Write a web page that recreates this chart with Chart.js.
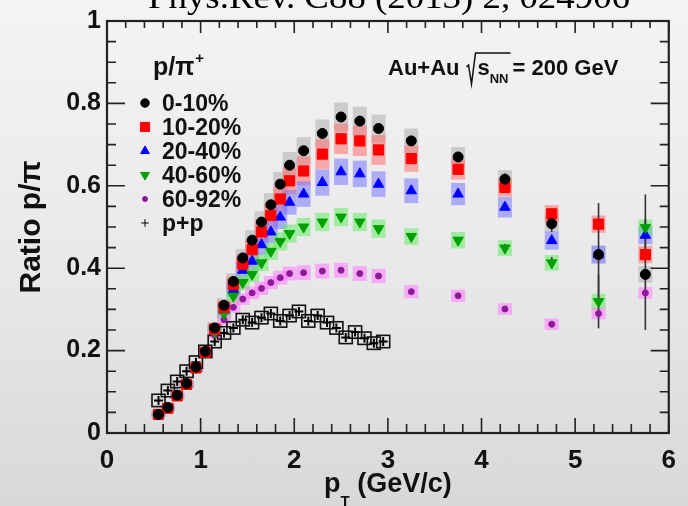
<!DOCTYPE html>
<html>
<head>
<meta charset="utf-8">
<title>Ratio p/pi</title>
<script src="https://cdn.jsdelivr.net/npm/chart.js@4.4.1/dist/chart.umd.min.js"></script>
<style>
  html, body { margin: 0; padding: 0; }
  body {
    width: 688px; height: 506px; overflow: hidden;
    background: linear-gradient(to bottom, #f4f4f4 0%, #e8e8e8 55%, #d8d8d8 100%);
  }
  canvas { display: block; }
</style>
</head>
<body>
<canvas id="ratioChart" width="688" height="506"></canvas>
<script>
// pT bin centres (GeV/c)
const ptAuAu = [0.55, 0.65, 0.75, 0.85, 0.95, 1.05, 1.15, 1.25, 1.35, 1.45,
                1.55, 1.65, 1.75, 1.85, 1.95, 2.1, 2.3, 2.5, 2.7, 2.9,
                3.25, 3.75, 4.25, 4.75, 5.25, 5.75];
const ptPP = [0.55, 0.65, 0.75, 0.85, 0.95, 1.05, 1.15, 1.25, 1.35, 1.45,
              1.55, 1.65, 1.75, 1.85, 1.95, 2.05, 2.15, 2.25, 2.35, 2.45,
              2.55, 2.65, 2.75, 2.85, 2.95];

// p/pi ratio per centrality class
const ratio0010 = [0.045, 0.062, 0.092, 0.120, 0.160, 0.198, 0.255, 0.310, 0.368, 0.425,
                   0.468, 0.512, 0.554, 0.604, 0.650, 0.685, 0.727, 0.767, 0.757, 0.739,
                   0.709, 0.670, 0.616, 0.508, 0.433, 0.385];
const ratio1020 = [0.045, 0.060, 0.090, 0.118, 0.158, 0.196, 0.252, 0.305, 0.360, 0.410,
                   0.445, 0.488, 0.528, 0.568, 0.612, 0.636, 0.677, 0.714, 0.709, 0.687,
                   0.666, 0.640, 0.596, 0.532, 0.507, 0.433];
const ratio2040 = [0.043, 0.060, 0.090, 0.117, 0.157, 0.195, 0.248, 0.298, 0.348, 0.395,
                   0.417, 0.457, 0.488, 0.524, 0.560, 0.580, 0.608, 0.634, 0.629, 0.604,
                   0.588, 0.580, 0.548, 0.467, 0.433, 0.480];
const ratio4060 = [0.048, 0.064, 0.094, 0.120, 0.158, 0.195, 0.245, 0.290, 0.332, 0.365,
                   0.385, 0.413, 0.441, 0.465, 0.484, 0.500, 0.512, 0.524, 0.512, 0.496,
                   0.477, 0.468, 0.449, 0.413, 0.319, 0.499];
const ratio6092 = [0.050, 0.066, 0.095, 0.122, 0.158, 0.193, 0.238, 0.275, 0.305, 0.325,
                   0.340, 0.351, 0.365, 0.377, 0.387, 0.389, 0.393, 0.395, 0.387, 0.381,
                   0.343, 0.333, 0.301, 0.264, 0.290, 0.340];
const ratioPP = [0.079, 0.103, 0.125, 0.150, 0.172, 0.198, 0.222, 0.243, 0.255, 0.275,
                 0.268, 0.280, 0.290, 0.272, 0.285, 0.295, 0.272, 0.285, 0.268, 0.255,
                 0.232, 0.245, 0.230, 0.218, 0.222];

// systematic uncertainties (boxes)
const sys0010 = [0.005, 0.006, 0.007, 0.008, 0.010, 0.012, 0.014, 0.017, 0.020, 0.022,
                 0.024, 0.026, 0.028, 0.030, 0.032, 0.033, 0.034, 0.035, 0.035, 0.034,
                 0.030, 0.024, 0.022, 0.020, 0.020, 0.020];
const sys1020 = [0.005, 0.006, 0.007, 0.008, 0.010, 0.012, 0.014, 0.017, 0.020, 0.022,
                 0.025, 0.027, 0.029, 0.031, 0.033, 0.035, 0.036, 0.037, 0.037, 0.036,
                 0.032, 0.025, 0.022, 0.021, 0.021, 0.021];
const sys2040 = [0.005, 0.006, 0.007, 0.008, 0.010, 0.012, 0.014, 0.016, 0.019, 0.021,
                 0.023, 0.025, 0.027, 0.029, 0.030, 0.031, 0.032, 0.032, 0.032, 0.031,
                 0.030, 0.027, 0.025, 0.022, 0.022, 0.022];
const sys4060 = [0.004, 0.005, 0.006, 0.007, 0.008, 0.010, 0.012, 0.014, 0.016, 0.018,
                 0.019, 0.020, 0.021, 0.022, 0.022, 0.022, 0.022, 0.022, 0.022, 0.022,
                 0.020, 0.020, 0.019, 0.019, 0.019, 0.019];
const sys6092 = [0.004, 0.005, 0.006, 0.007, 0.008, 0.009, 0.010, 0.012, 0.013, 0.014,
                 0.015, 0.016, 0.016, 0.017, 0.017, 0.018, 0.018, 0.018, 0.018, 0.017,
                 0.016, 0.015, 0.014, 0.014, 0.014, 0.014];
const sysPP = [0.015, 0.015, 0.015, 0.015, 0.015, 0.015, 0.015, 0.015, 0.015, 0.015,
               0.015, 0.015, 0.015, 0.015, 0.015, 0.015, 0.015, 0.015, 0.015, 0.015,
               0.015, 0.015, 0.015, 0.015, 0.015];

// statistical errors large enough to show as bars
const stat0010 = [0, 0, 0, 0, 0, 0, 0, 0, 0, 0, 0, 0, 0, 0, 0, 0, 0, 0, 0, 0,
                  0, 0.010, 0.014, 0.020, 0.125, 0.135];
const stat4060 = [0, 0, 0, 0, 0, 0, 0, 0, 0, 0, 0, 0, 0, 0, 0, 0, 0, 0, 0, 0,
                  0, 0.008, 0.010, 0.014, 0.065, 0.080];

const yTicks = [0, 0.2, 0.4, 0.6, 0.8, 1];

const FONT = "'Liberation Sans', Arial, Helvetica, sans-serif";
Chart.defaults.font.family = FONT;
Chart.defaults.font.weight = 'bold';
Chart.defaults.color = '#111';

function points(xs, ys) {
  return xs.map((x, i) => ({ x: x, y: ys[i] }));
}

const datasets = [
  { label: '0-10%', data: points(ptAuAu, ratio0010), sysErr: sys0010, statErr: stat0010,
    boxFill: 'rgba(175,175,175,0.55)', order: 1,
    pointStyle: 'circle', pointRadius: 5, pointBackgroundColor: '#000', pointBorderColor: '#000' },
  { label: '10-20%', data: points(ptAuAu, ratio1020), sysErr: sys1020,
    boxFill: 'rgba(255,110,110,0.55)', order: 2,
    pointStyle: 'rect', pointRadius: 7.2, pointBackgroundColor: '#ff0000', pointBorderColor: '#ff0000' },
  { label: '20-40%', data: points(ptAuAu, ratio2040), sysErr: sys2040,
    boxFill: 'rgba(120,120,255,0.55)', order: 4,
    pointStyle: 'triangle', pointRadius: 6, pointBackgroundColor: '#0000ff', pointBorderColor: '#0000ff' },
  { label: '40-60%', data: points(ptAuAu, ratio4060), sysErr: sys4060, statErr: stat4060,
    boxFill: 'rgba(100,235,100,0.55)', order: 3,
    pointStyle: 'triangle', pointRotation: 180, pointRadius: 6,
    pointBackgroundColor: '#00a000', pointBorderColor: '#00a000' },
  { label: '60-92%', data: points(ptAuAu, ratio6092), sysErr: sys6092,
    boxFill: 'rgba(255,120,255,0.55)', order: 5,
    pointStyle: 'circle', pointRadius: 3, pointBackgroundColor: '#8e1a9a', pointBorderColor: '#8e1a9a' },
  { label: 'p+p', data: points(ptPP, ratioPP), sysErr: sysPP, boxStroke: '#111', order: 6,
    pointStyle: 'cross', pointRadius: 4.5, pointBorderWidth: 2,
    pointBackgroundColor: '#000', pointBorderColor: '#000' }
];

// systematic boxes and statistical bars under the markers
const errorDraw = {
  id: 'errorDraw',
  beforeDatasetsDraw(chart) {
    const { ctx, scales: { x, y } } = chart;
    ctx.save();
    chart.data.datasets.forEach(ds => {
      const half = ds.boxStroke ? 6.5 : 7;
      ds.data.forEach((p, i) => {
        const px = x.getPixelForValue(p.x);
        const top = y.getPixelForValue(p.y + ds.sysErr[i]);
        const bot = y.getPixelForValue(p.y - ds.sysErr[i]);
        if (ds.boxStroke) {
          ctx.strokeStyle = ds.boxStroke;
          ctx.lineWidth = 1.6;
          ctx.strokeRect(px - half, top, half * 2, bot - top);
        } else {
          ctx.fillStyle = ds.boxFill;
          ctx.fillRect(px - half, top, half * 2, bot - top);
        }
      });
    });
    chart.data.datasets.forEach(ds => {
      if (!ds.statErr) return;
      ctx.strokeStyle = '#333';
      ctx.lineWidth = 1.6;
      ds.data.forEach((p, i) => {
        const e = ds.statErr[i];
        if (!e) return;
        const px = x.getPixelForValue(p.x);
        ctx.beginPath();
        ctx.moveTo(px, y.getPixelForValue(p.y + e));
        ctx.lineTo(px, y.getPixelForValue(p.y - e));
        ctx.stroke();
      });
    });
    ctx.restore();
  }
};

// frame with inward ticks on all four sides
const frameTicks = {
  id: 'frameTicks',
  afterDraw(chart) {
    const { ctx, chartArea: a, scales: { x, y } } = chart;
    ctx.save();
    ctx.strokeStyle = '#222';
    ctx.lineWidth = 1.6;
    ctx.beginPath();
    for (let i = 0; i <= 30; i++) {
      const px = x.getPixelForValue(i * 0.2);
      const major = i % 5 === 0;
      ctx.moveTo(px, a.bottom); ctx.lineTo(px, a.bottom - (major ? 15 : 9));
      ctx.moveTo(px, a.top); ctx.lineTo(px, a.top + (major ? 12 : 7));
    }
    for (let i = 0; i <= 20; i++) {
      const py = y.getPixelForValue(i * 0.05);
      const major = i % 4 === 0;
      ctx.moveTo(a.left, py); ctx.lineTo(a.left + (major ? 18 : 9), py);
      ctx.moveTo(a.right, py); ctx.lineTo(a.right - (major ? 18 : 9), py);
    }
    ctx.stroke();
    ctx.lineWidth = 2.2;
    ctx.strokeRect(a.left, a.top, a.right - a.left, a.bottom - a.top);
    ctx.restore();
  }
};

// legend block, energy label, x title and the reference line at the top
const labels = {
  id: 'labels',
  afterDraw(chart) {
    const { ctx, chartArea: a } = chart;
    ctx.save();
    ctx.fillStyle = '#111';
    ctx.textBaseline = 'alphabetic';

    // legend title p/pi+
    ctx.font = 'bold 25px ' + FONT;
    ctx.fillText('p/\u03c0', 153, 75);
    const tw = ctx.measureText('p/\u03c0').width;
    ctx.font = 'bold 15px ' + FONT;
    ctx.fillText('+', 153 + tw + 1, 63);

    // legend entries
    chart.data.datasets.forEach((ds, i) => {
      const cy = 103 + i * 24;
      ctx.fillStyle = ds.pointBackgroundColor;
      ctx.strokeStyle = ds.pointBorderColor;
      Chart.helpers.drawPoint(ctx, {
        pointStyle: ds.pointStyle,
        rotation: ds.pointRotation || 0,
        radius: ds.pointStyle === 'rect' ? 6.5 : ds.pointStyle === 'circle' && ds.pointRadius < 4 ? 2.5 : ds.pointRadius * 0.85,
        borderWidth: ds.pointBorderWidth || 1
      }, 145, cy);
      ctx.fillStyle = '#111';
      ctx.font = 'bold 23px ' + FONT;
      ctx.textBaseline = 'middle';
      ctx.fillText(ds.label, 162, cy + 2);
      ctx.textBaseline = 'alphabetic';
    });

    // Au+Au sqrt(s_NN) = 200 GeV
    const base = 75;
    ctx.font = 'bold 22px ' + FONT;
    ctx.fillText('Au+Au', 388, base);
    let cx = 388 + ctx.measureText('Au+Au').width + 7;
    const sW = ctx.measureText('s').width;
    ctx.font = 'bold 13px ' + FONT;
    const nnW = ctx.measureText('NN').width;
    ctx.strokeStyle = '#111';
    ctx.lineWidth = 1.5;
    ctx.beginPath();
    ctx.moveTo(cx, base - 8);
    ctx.lineTo(cx + 2, base - 10);
    ctx.lineTo(cx + 5, base + 9);
    ctx.lineTo(cx + 9, base - 22);
    ctx.lineTo(cx + 11 + sW + nnW + 2, base - 22);
    ctx.stroke();
    ctx.font = 'bold 22px ' + FONT;
    ctx.fillText('s', cx + 11, base);
    ctx.font = 'bold 13px ' + FONT;
    ctx.fillText('NN', cx + 11 + sW, base + 8);
    ctx.font = 'bold 22px ' + FONT;
    ctx.fillText('= 200 GeV', cx + 11 + sW + nnW + 4, base);

    // x axis title: p_T (GeV/c)
    ctx.font = 'bold 27px ' + FONT;
    const pW = ctx.measureText('p').width;
    const restW = ctx.measureText(' (GeV/c)').width;
    ctx.font = 'bold 15px ' + FONT;
    const tW = ctx.measureText('T').width;
    let xs = (a.left + a.right) / 2 - (pW + tW + restW) / 2;
    ctx.font = 'bold 27px ' + FONT;
    ctx.fillText('p', xs, 492);
    ctx.font = 'bold 15px ' + FONT;
    ctx.fillText('T', xs + pW, 506);
    ctx.font = 'bold 27px ' + FONT;
    ctx.fillText(' (GeV/c)', xs + pW + tW, 492);

    // reference line above the frame
    ctx.font = "34px 'Liberation Serif', 'Times New Roman', serif";
    const refText = 'Phys.Rev. C88 (2013) 2, 024906';
    const rw = ctx.measureText(refText).width;
    ctx.translate(148, 8);
    ctx.scale(482 / rw, 1);
    ctx.fillStyle = '#000';
    ctx.fillText(refText, 0, 0);
    ctx.restore();
  }
};

const chart = new Chart(document.getElementById('ratioChart'), {
  type: 'scatter',
  data: { datasets: datasets },
  options: {
    responsive: false,
    animation: false,
    devicePixelRatio: 1,
    layout: { padding: { top: 14, right: 19, left: 0, bottom: 0 } },
    plugins: { legend: { display: false }, tooltip: { enabled: false } },
    scales: {
      x: {
        type: 'linear', min: 0, max: 6,
        grid: { display: false, drawTicks: false },
        border: { display: false },
        ticks: { stepSize: 1, padding: 12, font: { size: 26, weight: 'bold' } },
        afterFit(scale) { scale.height = 73; }
      },
      y: {
        type: 'linear', min: 0, max: 1,
        grid: { display: false, drawTicks: false },
        border: { display: false },
        afterBuildTicks(scale) { scale.ticks = yTicks.map(v => ({ value: v })); },
        ticks: { padding: 6, font: { size: 25, weight: 'bold' }, callback: v => String(+v.toFixed(1)) },
        title: { display: true, text: 'Ratio p/\u03c0', padding: { top: 14, bottom: 0 },
                 font: { size: 30, weight: 'bold' } },
        afterFit(scale) { scale.width = 107; }
      }
    }
  },
  plugins: [errorDraw, frameTicks, labels]
});
</script>
</body>
</html>
